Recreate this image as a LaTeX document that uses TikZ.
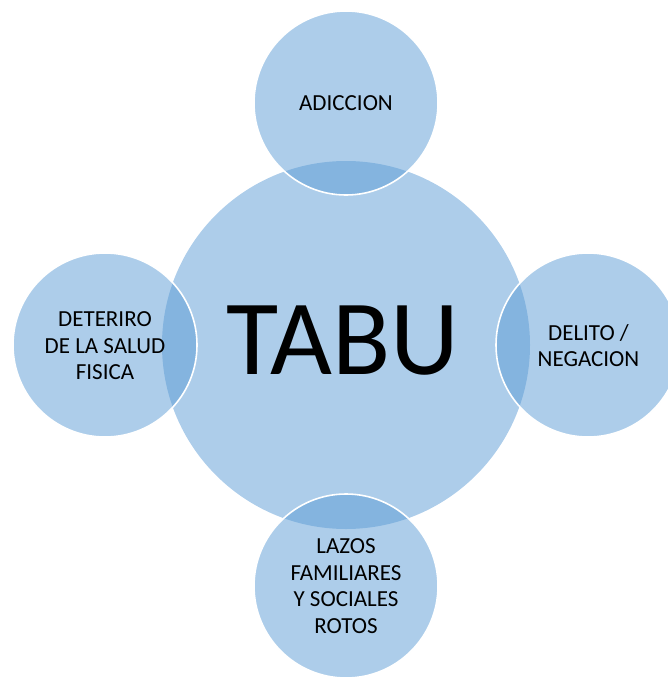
\documentclass[tikz,border=0pt]{standalone}
\usepackage{fontspec}
\setmainfont{Carlito}
\definecolor{accent}{HTML}{5B9BD5}
\tikzset{
  hub/.style={circle, fill=accent, fill opacity=0.5, draw=none, minimum size=368pt, inner sep=0pt},
  spoke/.style={circle, fill=accent, fill opacity=0.5, draw=white, draw opacity=1, line width=1.6pt, minimum size=184pt, inner sep=0pt},
  lbl/.style={text=black, align=center, inner sep=0pt, font=\fontsize{23}{26.5}\selectfont},
  biglbl/.style={text=black, inner sep=0pt, font=\fontsize{107}{120}\selectfont}
}
\begin{document}
\begin{tikzpicture}[x=1pt,y=-1pt]
\useasboundingbox (0,0) rectangle (668,677);
\node[hub] (c) at (346,345) {};
\node[spoke] (t) at (346,103) {};
\node[spoke] (l) at (105,345) {};
\node[spoke] (r) at (588,345) {};
\node[spoke] (b) at (346,586) {};
\node[biglbl] (ct) at (343,340.5) {TABU};
\node[lbl] (tt) at (346,103.6) {ADICCION};
\node[lbl] (lt) at (105,346) {DETERIRO\\DE LA SALUD\\FISICA};
\node[lbl] (rt) at (588.5,345.5) {DELITO /\\NEGACION};
\node[lbl] (bt) at (346,586) {LAZOS\\FAMILIARES\\Y SOCIALES\\ROTOS};
\end{tikzpicture}
\end{document}
